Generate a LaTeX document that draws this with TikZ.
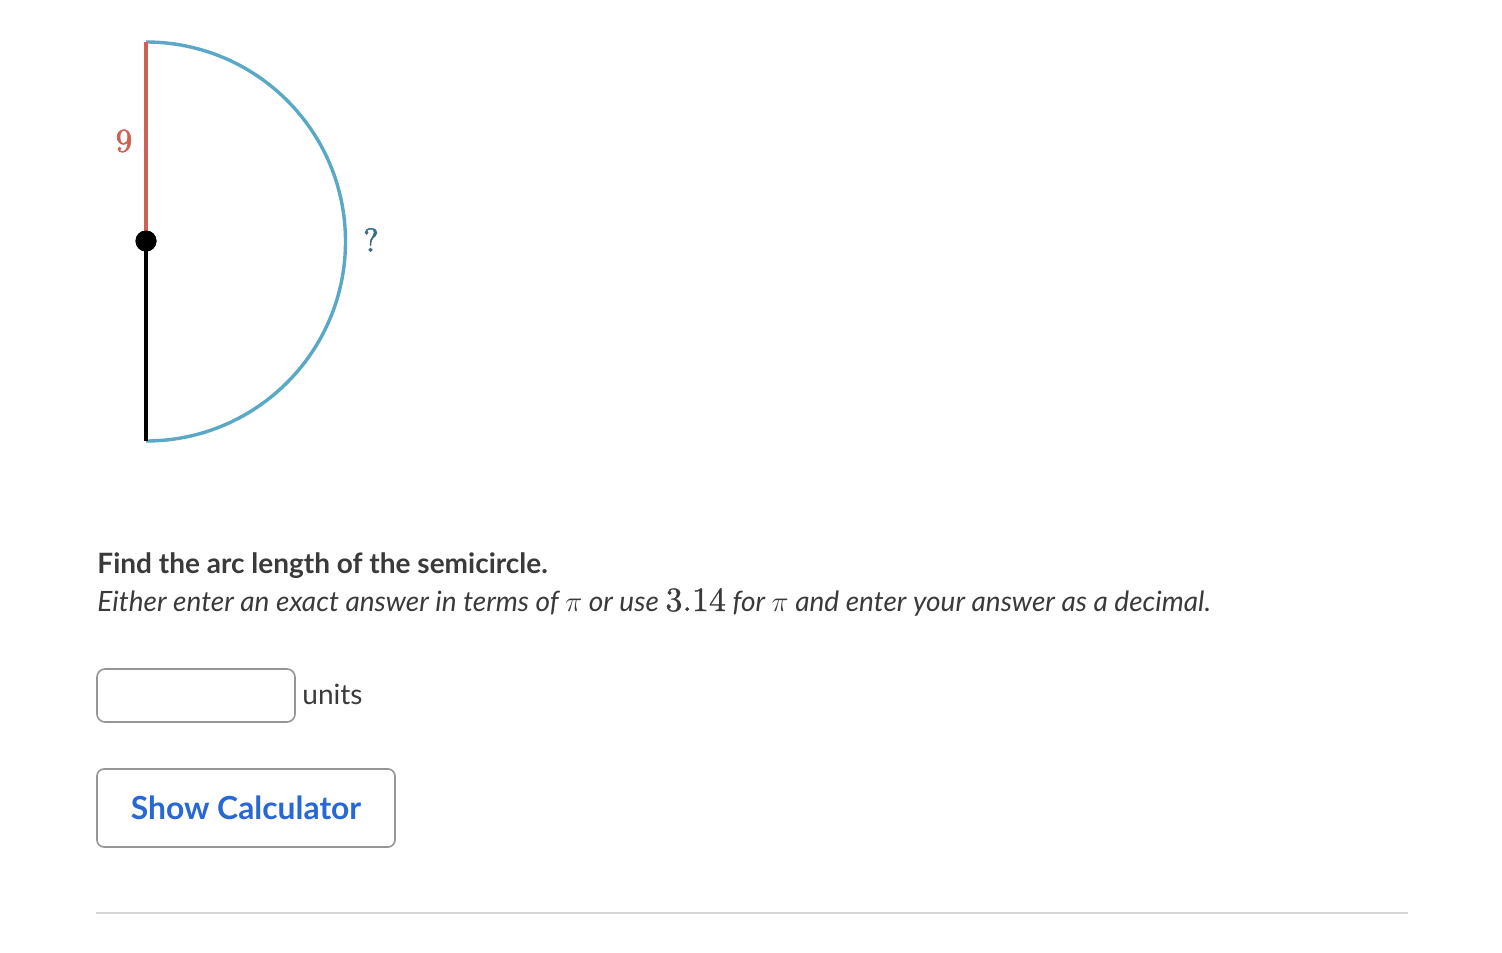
\documentclass[tikz,border=0pt]{standalone}
\usepackage[no-math]{fontspec}
\setmainfont{Lato}
\newfontfamily\lmfont{lmroman10-regular.otf}[FakeBold=2]
\newfontfamily\lmdig{lmroman10-regular.otf}[FakeBold=0.8]
\definecolor{arcblue}{RGB}{88,168,198}
\definecolor{radred}{RGB}{204,98,84}
\definecolor{qcol}{RGB}{62,108,135}
\definecolor{txt}{RGB}{58,58,58}
\definecolor{btnblue}{RGB}{40,104,214}
\definecolor{boxgray}{RGB}{150,150,150}
\definecolor{rulegray}{RGB}{214,214,214}
\tikzset{
  arcline/.style={draw=arcblue, line width=1.7pt},
  radline/.style={draw=radred, line width=1.75pt},
  blackline/.style={draw=black, line width=1.75pt},
  dotstyle/.style={circle, fill=black, inner sep=0pt, minimum size=10.5pt},
  lbl/.style={font=\fontsize{16.5}{19}\selectfont\lmfont, inner sep=0pt},
  bodytext/.style={text=txt, inner sep=0pt, anchor=base west, font=\fontsize{14}{17}\selectfont},
  inputbox/.style={draw=boxgray, line width=0.8pt, rounded corners=4pt, minimum width=99pt, minimum height=26.5pt, inner sep=0pt},
  button/.style={draw=boxgray, line width=0.8pt, rounded corners=3.5pt, minimum width=149pt, minimum height=39pt, inner sep=0pt, text=btnblue, font=\fontsize{15.9}{19}\selectfont\bfseries},
  hrule/.style={draw=rulegray, line width=1pt}
}
\begin{document}
\begin{tikzpicture}[x=0.5pt, y=0.5pt]
\useasboundingbox (0,0) rectangle (1502,-952);
% geometry
\coordinate (top) at (146,-42);
\coordinate (bot) at (146,-441);
\node[dotstyle] (c) at (146,-241) {};
\draw[arcline] (top) arc[start angle=90, end angle=-90, radius=199.5];
\draw[radline] (top) -- (c.center);
\draw[blackline] (c.center) -- (bot);
\node[dotstyle] (c2) at (c) {};
\node[lbl, text=radred] (nine) at (124,-141) {9};
\node[lbl, text=qcol] (q) at (371,-240) {?};
% texts
\node[bodytext, font=\fontsize{14}{17}\selectfont\bfseries] (t1) at (97,-573) {Find the arc length of the semicircle.};
\node[bodytext, font=\fontsize{14}{17}\selectfont\itshape] (t2) at (97,-611) {Either enter an exact answer in terms of {\fontsize{15.5}{18}\selectfont$\pi$} or use {\fontsize{17}{20}\selectfont\upshape\lmdig 3.14} for {\fontsize{15.5}{18}\selectfont$\pi$} and enter your answer as a decimal.};
% input
\node[inputbox] (box) at (196,-695.5) {};
\node[bodytext, anchor=base west] (units) at (302,-704) {units};
% button
\node[button] (btn) at (246,-808) {Show Calculator};
% rule
\coordinate (r1) at (96,-913);
\coordinate (r2) at (1408,-913);
\draw[hrule] (r1) -- (r2);
\end{tikzpicture}
\end{document}
